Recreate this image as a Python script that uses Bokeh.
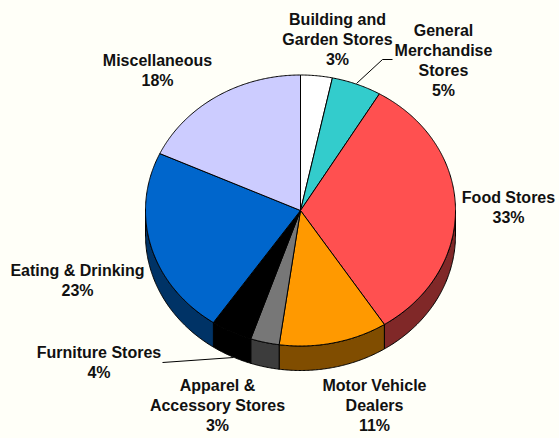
import numpy as np
from bokeh.plotting import figure
from bokeh.models import Range1d
from bokeh.core.properties import value
from bokeh.embed import file_html
from bokeh.resources import INLINE

categories = ["Building and\nGarden Stores", "General\nMerchandise\nStores", "Food Stores",
              "Motor Vehicle\nDealers", "Apparel &\nAccessory Stores", "Furniture Stores",
              "Eating & Drinking", "Miscellaneous"]
shares = [3.3, 5.2, 32.4, 11.3, 3.0, 4.3, 22.4, 18.1]
percent_labels = ["3%", "5%", "33%", "11%", "3%", "4%", "23%", "18%"]
top_colors = ["#FFFFFF", "#33CCCC", "#FF5050", "#FF9900", "#777777", "#000000", "#0066CC", "#CCCCFF"]
side_colors = ["#808080", "#1A6666", "#802828", "#804D00", "#3C3C3C", "#000000", "#003366", "#666680"]

BG = "#FFFFF8"
CX, CY, RX, RY, DEPTH = 300, 210, 155, 135.5, 24.5
label_anchor = [(337, 19), (443, 30), (508, 197), (374, 385), (217, 385), (98.5, 352), (77, 270), (157, 60)]
LINE_STEP = 20
leaders = [([356, 382, 392], [83, 59, 59]), ([233, 162], [357, 362])]

p = figure(width=559, height=438, output_backend="svg", toolbar_location=None,
           x_range=Range1d(0, 559), y_range=Range1d(438, 0), min_border=0,
           background_fill_color=BG, border_fill_color=BG, outline_line_color=None)
p.axis.visible = False
p.grid.visible = False


def arc(t0, t1):
    t = np.linspace(t0, t1, max(2, int(abs(t1 - t0) * 120)))
    return CX + RX * np.sin(t), CY - RY * np.cos(t)


edges = np.concatenate([[0], np.cumsum(shares)]) / sum(shares) * 2 * np.pi

# side wall: only the part of each slice on the near half of the ellipse
sx, sy, sc = [], [], []
for i in range(len(shares)):
    a, b = max(edges[i], np.pi / 2), min(edges[i + 1], 3 * np.pi / 2)
    if b <= a:
        continue
    x, y = arc(a, b)
    sx.append(np.concatenate([x, x[::-1]]))
    sy.append(np.concatenate([y, y[::-1] + DEPTH]))
    sc.append(side_colors[i])
p.patches(sx, sy, fill_color=sc, line_color="#000000", line_width=1)

# top face
tx, ty = [], []
for i in range(len(shares)):
    x, y = arc(edges[i], edges[i + 1])
    tx.append(np.concatenate([[CX], x]))
    ty.append(np.concatenate([[CY], y]))
p.patches(tx, ty, fill_color=top_colors, line_color="#000000", line_width=1)

for lx, ly in leaders:
    p.line(lx, ly, line_color="#000000", line_width=1)

# labels
lab_x, lab_y, lab_t = [], [], []
for cat, pct, (ax, ay) in zip(categories, percent_labels, label_anchor):
    for j, line in enumerate(cat.split("\n") + [pct]):
        lab_x.append(ax)
        lab_y.append(ay + j * LINE_STEP)
        lab_t.append(line)
p.text(lab_x, lab_y, text=lab_t, text_font=value("Liberation Sans"), text_font_style="bold",
       text_font_size="16px", text_color="#111111", text_align="center", text_baseline="middle")

html = file_html(p, INLINE)
html = html.replace("<head>", "<head><style>html,body{background:%s;margin:0;padding:0;overflow:hidden}</style>" % BG, 1)
open("out.html", "w").write(html)
